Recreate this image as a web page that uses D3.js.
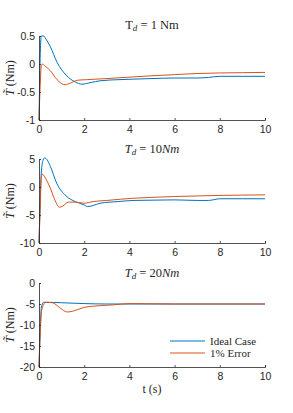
<!DOCTYPE html>
<html>
<head>
<meta charset="utf-8">
<script src="https://cdn.jsdelivr.net/npm/d3@7"></script>
<style>
  body { margin: 0; background: #fff; }
  svg text { fill: #262626; }
  .tick text { font-family: "Liberation Sans", Arial, sans-serif; font-size: 10px; }
  .ser { font-family: "Liberation Serif", "DejaVu Serif", serif; }
</style>
</head>
<body>
<script>
// Ideal case vs 1% error, three disturbance torques
var xTicks = [0, 2, 4, 6, 8, 10];

var t1Ideal = [0, 0.05, 0.1, 0.2, 0.3, 0.5, 0.8, 1.2, 1.6, 1.9, 2.3, 2.7, 3.5, 4.2, 5, 6, 7, 7.5, 8, 9, 10];
var v1Ideal = [-1, 0.1, 0.5, 0.5, 0.45, 0.31, 0.03, -0.2, -0.32, -0.36, -0.33, -0.3, -0.28, -0.27, -0.26, -0.25, -0.25, -0.24, -0.22, -0.22, -0.22];
var t1Err = [0, 0.05, 0.1, 0.15, 0.25, 0.5, 0.8, 1.0, 1.15, 1.4, 1.7, 2.1, 3, 4.2, 5, 6, 7, 8, 9, 10];
var v1Err = [-1, -0.4, -0.05, 0, -0.03, -0.12, -0.28, -0.35, -0.37, -0.34, -0.29, -0.28, -0.26, -0.23, -0.21, -0.19, -0.17, -0.16, -0.155, -0.15];

var t2Ideal = [0, 0.05, 0.1, 0.18, 0.25, 0.35, 0.5, 0.78, 1.2, 1.6, 2.0, 2.15, 2.4, 2.7, 3.5, 4.2, 5, 6, 7, 7.5, 8, 9, 10];
var v2Ideal = [-10, -3, 2.5, 4.8, 5.2, 4.9, 3.7, 0.7, -1.6, -2.6, -3.2, -3.5, -3.3, -2.9, -2.6, -2.4, -2.35, -2.3, -2.4, -2.4, -2.1, -2.1, -2.1];
var t2Err = [0, 0.05, 0.1, 0.15, 0.25, 0.5, 0.7, 0.9, 1.05, 1.3, 1.6, 2.0, 2.4, 3, 4.2, 5, 6, 7, 8, 9, 10];
var v2Err = [-10, -4, 1.5, 2.3, 1.8, -0.2, -2.3, -3.6, -3.4, -2.7, -2.7, -2.9, -2.6, -2.4, -2.0, -1.85, -1.7, -1.6, -1.5, -1.45, -1.4];

var t3Ideal = [0, 0.05, 0.1, 0.2, 0.4, 1, 2, 3, 4, 6, 8, 10];
var v3Ideal = [-20, -12, -6, -4.6, -4.6, -4.7, -4.9, -5, -5, -5, -5, -5];
var t3Err = [0, 0.03, 0.07, 0.12, 0.2, 0.3, 0.6, 0.9, 1.25, 1.5, 2, 2.7, 3.3, 4, 5, 6, 8, 10];
var v3Err = [-20, -15, -10, -6.5, -5.2, -4.6, -4.7, -5.8, -6.9, -6.7, -5.8, -5.4, -5.2, -4.9, -4.95, -5, -5, -5];

var legendLabels = ["Ideal Case", "1% Error"];
var colors = ["#0072BD", "#D95319"];

var panels = [
  {top: 36, bottom: 120, yDom: [-1, 0.5], yTicks: [-1, -0.5, 0, 0.5], fmt: function(d){ return d == 0 ? "0" : String(d); },
   title: "1", italic: false, series: [[t1Ideal, v1Ideal], [t1Err, v1Err]], titleY: 25},
  {top: 159, bottom: 243, yDom: [-10, 5], yTicks: [-10, -5, 0, 5], fmt: String,
   title: "10", italic: true, series: [[t2Ideal, v2Ideal], [t2Err, v2Err]], titleY: 149},
  {top: 283, bottom: 367, yDom: [-20, 0], yTicks: [-20, -15, -10, -5, 0], fmt: String,
   title: "20", italic: true, series: [[t3Ideal, v3Ideal], [t3Err, v3Err]], titleY: 273}
];

var width = 293, height = 413;
var left = 39, right = 265;

var svg = d3.select("body").append("svg")
  .attr("width", width)
  .attr("height", height);

var x = d3.scaleLinear().domain([0, 10]).range([left, right]);

panels.forEach(function(p, i){
  var y = d3.scaleLinear().domain(p.yDom).range([p.bottom, p.top]);
  var g = svg.append("g");

  var line = d3.line()
    .x(function(d){ return x(d[0]); })
    .y(function(d){ return y(d[1]); })
    .curve(d3.curveMonotoneX);

  p.series.forEach(function(s, k){
    var pts = s[0].map(function(t, j){ return [t, s[1][j]]; });
    g.append("path")
      .attr("d", line(pts))
      .attr("fill", "none")
      .attr("stroke", colors[k])
      .attr("stroke-width", 1);
  });

  var xa = g.append("g")
    .attr("transform", "translate(0," + p.bottom + ")")
    .call(d3.axisBottom(x).tickValues(xTicks).tickSize(-2).tickPadding(6).tickFormat(d3.format("d")));
  var ya = g.append("g")
    .attr("transform", "translate(" + left + ",0)")
    .call(d3.axisLeft(y).tickValues(p.yTicks).tickSize(-2).tickPadding(4).tickFormat(p.fmt));
  [xa, ya].forEach(function(a){
    a.select(".domain").attr("stroke", "#262626").attr("stroke-width", 0.8);
    a.selectAll(".tick line").attr("stroke", "#262626").attr("stroke-width", 0.8);
    a.selectAll(".tick text").attr("fill", "#262626").style("font-size", "10.5px");
  });

  // title
  var tt = g.append("text").attr("class", "ser")
    .attr("x", (left + right) / 2).attr("y", p.titleY + 4)
    .attr("text-anchor", "middle").attr("font-size", 12.5);
  if (p.italic) {
    tt.append("tspan").attr("font-style", "italic").text("T");
    tt.append("tspan").attr("font-style", "italic").attr("font-size", 9).attr("dy", 2).text("d");
    tt.append("tspan").attr("dy", -2).text(" = " + p.title);
    tt.append("tspan").attr("font-style", "italic").text("Nm");
  } else {
    tt.append("tspan").text("T");
    tt.append("tspan").attr("font-style", "italic").attr("font-size", 9).attr("dy", 2).text("d");
    tt.append("tspan").attr("dy", -2).text(" = " + p.title + " Nm");
  }

  // y label
  var yl = g.append("text").attr("class", "ser")
    .attr("transform", "translate(14," + (p.top + p.bottom) / 2 + ") rotate(-90)")
    .attr("text-anchor", "middle").attr("font-size", 12);
  yl.append("tspan").attr("font-style", "italic").text("T\u0303");
  yl.append("tspan").text(" (Nm)");
});

// x label
svg.append("text").attr("class", "ser")
  .attr("x", (left + right) / 2).attr("y", 393)
  .attr("text-anchor", "middle").attr("font-size", 12)
  .text("t (s)");

// legend in last panel
var leg = svg.append("g");
legendLabels.forEach(function(lab, k){
  var ly = 341 + k * 12;
  leg.append("line")
    .attr("x1", 170).attr("x2", 205).attr("y1", ly).attr("y2", ly)
    .attr("stroke", colors[k]).attr("stroke-width", 1);
  leg.append("text").attr("class", "ser")
    .attr("x", 210).attr("y", ly + 3.5)
    .attr("font-size", 11)
    .text(lab);
});
</script>
</body>
</html>
